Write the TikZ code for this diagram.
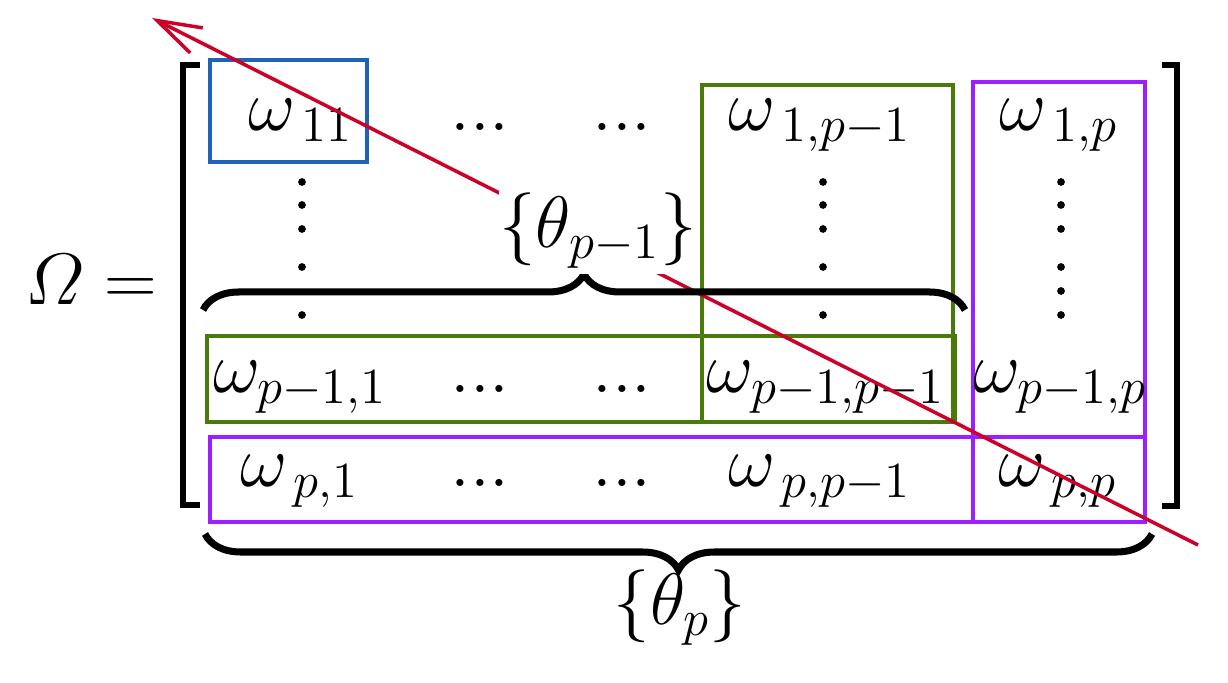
\documentclass[tikz,border=0pt]{standalone}
\usepackage{amsmath}
\usetikzlibrary{arrows.meta,decorations.pathreplacing}
\definecolor{boxblue}{RGB}{31,99,184}
\definecolor{boxgreen}{RGB}{74,122,10}
\definecolor{boxpurple}{RGB}{155,31,255}
\definecolor{diagred}{RGB}{204,0,40}
\begin{document}
\begin{tikzpicture}[x=0.01cm,y=-0.01cm,
  font=\fontsize{20}{24}\selectfont,
  entry/.style={anchor=base,inner sep=0pt},
  blockbox/.style={line width=1pt},
  bracket/.style={line width=1.5pt},
  curly/.style={line width=2pt,decorate,decoration={brace,amplitude=0.36cm}}]
\useasboundingbox (0,0) rectangle (1228,683);
% coloured blocks
\draw[blockbox,boxblue] (210,60) rectangle (367,162);
\draw[blockbox,boxgreen] (702,85) rectangle (953,422);
\draw[blockbox,boxgreen] (207,336) rectangle (955,422);
\draw[blockbox,boxpurple] (973,82) rectangle (1145,522);
\draw[blockbox,boxpurple] (210,437) rectangle (1145,522);
% matrix brackets
\draw[bracket] (200,65) -- (183,65) -- (183,505) -- (200,505);
\draw[bracket] (1162,65) -- (1177,65) -- (1177,506) -- (1162,506);
\node[entry] (lhs) at (91,305) {$\varOmega=$};
% entries
\node[entry] (w11) at (301,131) {$\omega_{\,11}$};
\node[entry] (d11) at (480,131) {$...$};
\node[entry] (d12) at (622,131) {$...$};
\node[entry] (w1q) at (820,131) {$\omega_{\,1,p-1}$};
\node[entry] (w1p) at (1059,131) {$\omega_{\,1,p}$};
\node[entry] (wq1) at (300,393) {$\omega_{p-1,1}$};
\node[entry] (dq1) at (480,393) {$...$};
\node[entry] (dq2) at (622,393) {$...$};
\node[entry] (wqq) at (826,393) {$\omega_{p-1,p-1}$};
\node[entry] (wqp) at (1060,393) {$\omega_{p-1,p}$};
\node[entry] (wp1) at (300,487) {$\omega_{\,p,1}$};
\node[entry] (dp1) at (480,487) {$...$};
\node[entry] (dp2) at (622,487) {$...$};
\node[entry] (wpq) at (820,487) {$\omega_{\,p,p-1}$};
\node[entry] (wpp) at (1058,487) {$\omega_{\,p,p}$};
% vertical dots
\foreach \y in {182,205,229,267,315} {
  \fill (302,\y) circle (1.1pt);
  \fill (823,\y) circle (1.1pt);
}
\foreach \y in {182,205,229,267,291,315}
  \fill (1061,\y) circle (1.1pt);
% diagonal
\coordinate (diagend) at (1198,545);
\coordinate (diagtip) at (152,18);
\draw[diagred,line width=1pt,-{Straight Barb[length=4.4mm,width=2.8mm]}] (diagend) -- (diagtip);
% braces
\draw[curly] (203,310) -- (965,310);
\draw[curly] (1152,534) -- (205,534);
\node[entry,fill=white,inner xsep=0pt,inner ysep=1.5pt] (thq) at (598,248) {$\{\theta_{p-1}\}$};
\node[entry] (thp) at (680,625) {$\{\theta_{p}\}$};
\end{tikzpicture}
\end{document}
